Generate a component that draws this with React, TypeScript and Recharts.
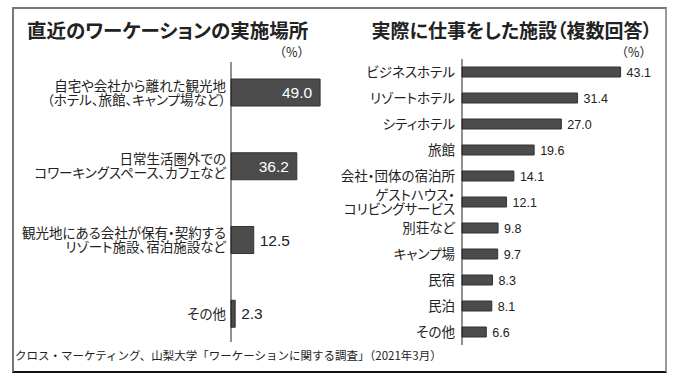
import { BarChart, Bar, XAxis, YAxis, LabelList } from "recharts";

const placeCategories = [
  "自宅や会社から離れた観光地\n（ホテル、旅館、キャンプ場など）",
  "日常生活圏外での\nコワーキングスペース、カフェなど",
  "観光地にある会社が保有・契約する\nリゾート施設、宿泊施設など",
  "その他",
];
const placeValues = [49.0, 36.2, 12.5, 2.3];

const facilityCategories = [
  "ビジネスホテル",
  "リゾートホテル",
  "シティホテル",
  "旅館",
  "会社・団体の宿泊所",
  "ゲストハウス・\nコリビングサービス",
  "別荘など",
  "キャンプ場",
  "民宿",
  "民泊",
  "その他",
];
const facilityValues = [43.1, 31.4, 27.0, 19.6, 14.1, 12.1, 9.8, 9.7, 8.3, 8.1, 6.6];

const FONT = '"Noto Sans CJK JP", "Noto Sans", sans-serif';
const NUM_FONT = '"Liberation Sans", Arial, sans-serif';
const BAR_FILL = "#4b4b4b";
const PALT = { fontFeatureSettings: '"palt"' };

const placeData = placeCategories.map((name, i) => ({ name, value: placeValues[i] }));
const facilityData = facilityCategories.map((name, i) => ({ name, value: facilityValues[i] }));

function MultiTick(props: any) {
  const { x, y, payload, fontSize, lineHeight } = props;
  const lines = String(payload.value).split("\n");
  const start = -((lines.length - 1) * lineHeight) / 2;
  return (
    <text x={x} y={y} textAnchor="end" fill="#222" fontSize={fontSize} fontFamily={FONT} style={PALT}>
      {lines.map((l, i) => (
        <tspan key={i} x={x} y={y + start + i * lineHeight} dy="0.36em">
          {l}
        </tspan>
      ))}
    </text>
  );
}

function PlaceLabel(props: any) {
  const { x, y, width, height, value } = props;
  const inside = value > 20;
  return (
    <text
      x={inside ? x + width - 8 : x + width + 6}
      y={y + height / 2}
      dy="0.36em"
      textAnchor={inside ? "end" : "start"}
      fill={inside ? "#fff" : "#222"}
      fontSize={15.5}
      fontFamily={NUM_FONT}
    >
      {Number(value).toFixed(1)}
    </text>
  );
}

function FacilityLabel(props: any) {
  const { x, y, width, height, value } = props;
  return (
    <text
      x={x + width + 6}
      y={y + height / 2}
      dy="0.36em"
      textAnchor="start"
      fill="#222"
      fontSize={12.5}
      fontFamily={NUM_FONT}
    >
      {Number(value).toFixed(1)}
    </text>
  );
}

export default function App() {
  return (
    <div
      style={{
        position: "absolute",
        left: 0,
        top: 0,
        width: 678,
        height: 378,
        background: "#fff",
        fontFamily: FONT,
        color: "#222",
      }}
    >
      {/* frame */}
      <div
        style={{
          position: "absolute",
          left: 12,
          top: 7,
          width: 651,
          height: 362,
          borderTop: "2px solid #777",
          borderLeft: "2px solid #777",
          borderRight: "2px solid #999",
          borderBottom: "2px solid #111",
        }}
      />

      <div style={{ position: "absolute", left: 27, top: 16, fontSize: 19.5, fontWeight: 700, whiteSpace: "nowrap", lineHeight: "28px", ...PALT }}>
        直近のワーケーションの実施場所
      </div>
      <div style={{ position: "absolute", right: 368, top: 43, fontSize: 12.5, whiteSpace: "nowrap", lineHeight: "18px" }}>
        （%）
      </div>

      <div style={{ position: "absolute", right: 26, top: 16, fontSize: 19, fontWeight: 700, whiteSpace: "nowrap", lineHeight: "28px", ...PALT }}>
        実際に仕事をした施設（複数回答）
      </div>
      <div style={{ position: "absolute", right: 26, top: 43, fontSize: 12.5, whiteSpace: "nowrap", lineHeight: "18px" }}>
        （%）
      </div>

      <div style={{ position: "absolute", left: 15, top: 347, fontSize: 11.5, whiteSpace: "nowrap", lineHeight: "16px" }}>
        クロス・マーケティング、山梨大学「ワーケーションに関する調査」（2021年3月）
      </div>

      <div style={{ position: "absolute", left: 0, top: 0 }}>
        <BarChart
          width={331}
          height={378}
          data={placeData}
          layout="vertical"
          margin={{ top: 62, bottom: 36, left: 0, right: 0 }}
        >
          <XAxis type="number" domain={[0, 55]} hide />
          <YAxis
            type="category"
            dataKey="name"
            width={231}
            axisLine={{ stroke: "#222", strokeWidth: 1 }}
            tickLine={false}
            tickSize={0}
            tickMargin={5}
            padding={{ top: -6, bottom: -9 }}
            interval={0}
            tick={<MultiTick fontSize={13.5} lineHeight={14} />}
          />
          <Bar dataKey="value" fill={BAR_FILL} stroke="#333" strokeWidth={1} barSize={27} isAnimationActive={false}>
            <LabelList dataKey="value" content={<PlaceLabel />} />
          </Bar>
        </BarChart>
      </div>

      <div style={{ position: "absolute", left: 340, top: 0 }}>
        <BarChart
          width={346}
          height={378}
          data={facilityData}
          layout="vertical"
          margin={{ top: 59, bottom: 33, left: 0, right: 40 }}
        >
          <XAxis type="number" domain={[0, 50]} hide />
          <YAxis
            type="category"
            dataKey="name"
            width={122}
            axisLine={{ stroke: "#222", strokeWidth: 1 }}
            tickLine={false}
            tickSize={0}
            tickMargin={7}
            interval={0}
            tick={<MultiTick fontSize={13.5} lineHeight={14} />}
          />
          <Bar dataKey="value" fill={BAR_FILL} stroke="#333" strokeWidth={1} barSize={10} isAnimationActive={false}>
            <LabelList dataKey="value" content={<FacilityLabel />} />
          </Bar>
        </BarChart>
      </div>
    </div>
  );
}
